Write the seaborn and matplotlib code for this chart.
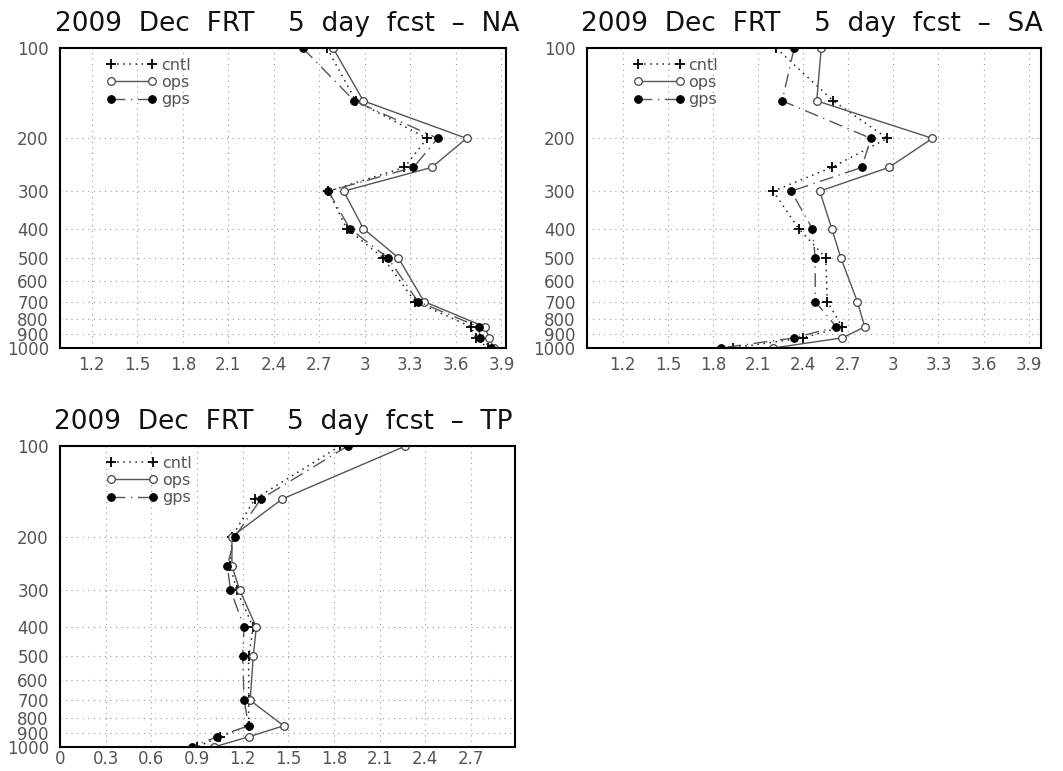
import numpy as np
import pandas as pd
import matplotlib
matplotlib.use('Agg')
import matplotlib.pyplot as plt
import seaborn as sns

# pressure levels (hPa)
levels = [100, 150, 200, 250, 300, 400, 500, 700, 850, 925, 1000]

# NA
na_cntl = [2.75, 2.94, 3.41, 3.26, 2.76, 2.88, 3.12, 3.33, 3.70, 3.73, 3.81]
na_ops = [2.79, 2.99, 3.67, 3.44, 2.86, 2.99, 3.22, 3.39, 3.79, 3.82, 3.85]
na_gps = [2.59, 2.93, 3.48, 3.32, 2.76, 2.90, 3.15, 3.35, 3.75, 3.76, 3.83]

# SA
sa_cntl = [2.22, 2.60, 2.96, 2.59, 2.20, 2.37, 2.55, 2.56, 2.66, 2.40, 1.93]
sa_ops = [2.52, 2.49, 3.26, 2.97, 2.51, 2.59, 2.65, 2.76, 2.81, 2.66, 2.20]
sa_gps = [2.34, 2.26, 2.85, 2.79, 2.32, 2.46, 2.48, 2.48, 2.62, 2.34, 1.85]

# TP
tp_cntl = [1.84, 1.28, 1.13, 1.12, 1.16, 1.27, 1.24, 1.24, 1.24, 1.05, 0.90]
tp_ops = [2.27, 1.46, 1.13, 1.13, 1.18, 1.29, 1.27, 1.25, 1.47, 1.24, 1.01]
tp_gps = [1.89, 1.32, 1.15, 1.10, 1.12, 1.21, 1.20, 1.21, 1.24, 1.03, 0.87]

ytick_vals = [100, 200, 300, 400, 500, 600, 700, 800, 900, 1000]

sns.set_style('white')
plt.rcParams['font.family'] = ['DejaVu Sans']

fig = plt.figure(figsize=(10.63, 7.71), dpi=100)


def make_panel(rect, title, cntl, ops, gps, xlim, xticks, xticklabels, xpad=6):
    ax = fig.add_axes(rect)
    df = pd.DataFrame({'lev': levels, 'cntl': cntl, 'ops': ops, 'gps': gps})
    sns.lineplot(data=df, x='cntl', y='lev', sort=False, estimator=None, ax=ax,
                 color='#222222', linestyle=(0, (1, 3)), lw=1.1, marker='+',
                 markersize=7.5, markeredgewidth=1.3, markeredgecolor='black',
                 label='cntl')
    sns.lineplot(data=df, x='ops', y='lev', sort=False, estimator=None, ax=ax,
                 color='#555555', linestyle='-', lw=1.0, marker='o',
                 markersize=5.5, markerfacecolor='white', markeredgecolor='#444444',
                 markeredgewidth=0.9, label='ops')
    sns.lineplot(data=df, x='gps', y='lev', sort=False, estimator=None, ax=ax,
                 color='#555555', linestyle=(0, (10, 4, 1, 4)), lw=1.0, marker='o',
                 markersize=5.5, markerfacecolor='black', markeredgecolor='black',
                 label='gps')
    ax.set_yscale('log')
    ax.set_ylim(1000, 100)
    ax.set_yticks(ytick_vals)
    ax.set_yticklabels([str(v) for v in ytick_vals])
    ax.yaxis.set_minor_locator(matplotlib.ticker.NullLocator())
    ax.set_xlim(*xlim)
    ax.set_xticks(xticks)
    ax.set_xticklabels(xticklabels)
    ax.set_xlabel('')
    ax.set_ylabel('')
    ax.grid(True, color='#999999', linestyle=(0, (1, 4)), lw=0.8)
    for s in ax.spines.values():
        s.set_color('black')
        s.set_linewidth(1.5)
    ax.tick_params(axis='both', labelsize=12, labelcolor='#555555', length=0)
    ax.tick_params(axis='y', pad=8)
    ax.tick_params(axis='x', pad=xpad)
    ax.set_title(title, fontsize=19, loc='left', x=-0.012, pad=12,
                 color='#111111')
    ax.legend(loc='upper left', bbox_to_anchor=(0.085, 0.995), frameon=False,
              numpoints=2, handlelength=3.2, handletextpad=0.25,
              labelspacing=0.15, fontsize=11.5, labelcolor='#555555',
              borderpad=0.0)
    return ax


na_xt = [1.2, 1.5, 1.8, 2.1, 2.4, 2.7, 3.0, 3.3, 3.6, 3.9]
na_xl = ['1.2', '1.5', '1.8', '2.1', '2.4', '2.7', '3', '3.3', '3.6', '3.9']
tp_xt = [0, 0.3, 0.6, 0.9, 1.2, 1.5, 1.8, 2.1, 2.4, 2.7]
tp_xl = ['0', '0.3', '0.6', '0.9', '1.2', '1.5', '1.8', '2.1', '2.4', '2.7']

make_panel([0.0564, 0.5486, 0.4196, 0.3891], '2009  Dec  FRT    5  day  fcst  \u2013  NA',
           na_cntl, na_ops, na_gps, (0.99, 3.93), na_xt, na_xl)
make_panel([0.552, 0.5486, 0.427, 0.3891], '2009  Dec  FRT    5  day  fcst  \u2013  SA',
           sa_cntl, sa_ops, sa_gps, (0.96, 3.98), na_xt, na_xl)
make_panel([0.0564, 0.0311, 0.4281, 0.3904], '2009  Dec  FRT    5  day  fcst  \u2013  TP',
           tp_cntl, tp_ops, tp_gps, (0.0, 2.99), tp_xt, tp_xl, xpad=2)

fig.savefig('out.png', dpi=100)
